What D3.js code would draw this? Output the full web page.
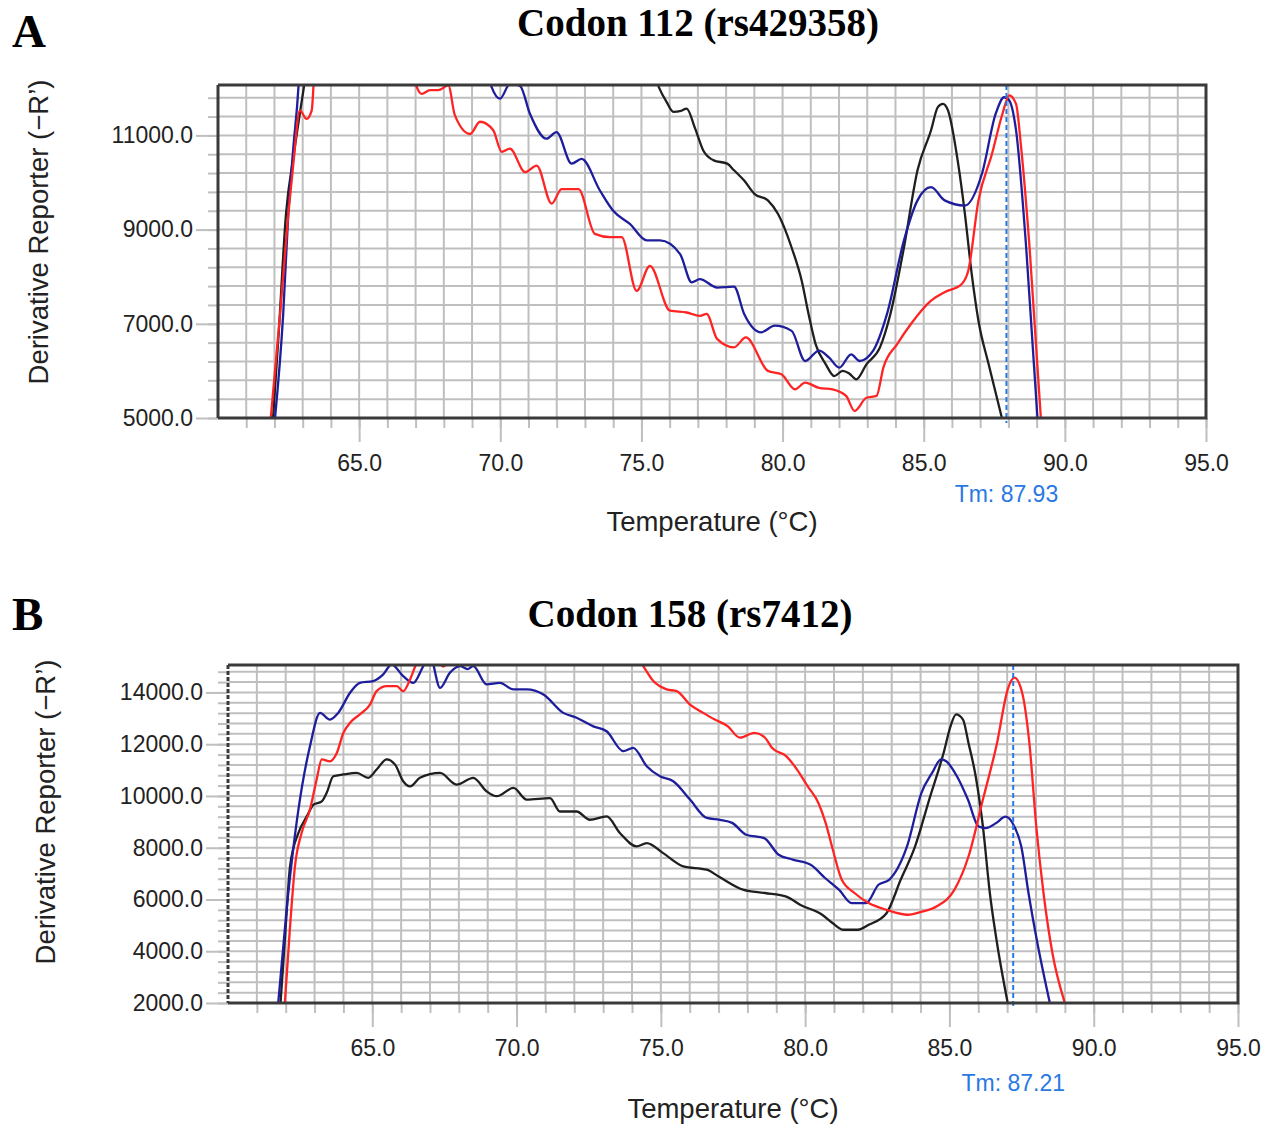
<!DOCTYPE html>
<html>
<head>
<meta charset="utf-8">
<script src="https://cdn.jsdelivr.net/npm/d3@7"></script>
<style>
  body { margin: 0; background: #fff; }
  svg { display: block; }
</style>
</head>
<body>
<script>
// melt curve data: [temperature (°C), derivative reporter (-R')]
var a112Black = [[61.95,5000],[62.15,6800],[62.41,9340],[62.67,10540],[62.9,11470],[63.1,12300],[63.4,14500],[74.9,13600],[75.62,12020],[75.9,11700],[76.13,11500],[76.4,11520],[76.6,11570],[76.9,11150],[77.19,10680],[77.56,10470],[78.04,10400],[78.28,10260],[78.64,10040],[79.0,9760],[79.48,9620],[79.84,9330],[80.32,8620],[80.68,7910],[80.92,7210],[81.17,6570],[81.53,6140],[81.83,5890],[82.13,6000],[82.35,5950],[82.61,5820],[82.97,6140],[83.45,6500],[83.82,7210],[84.3,8620],[84.78,10260],[85.26,11110],[85.5,11600],[85.68,11670],[85.86,11530],[86.22,10400],[86.46,9330],[86.7,8060],[86.94,7060],[87.3,6140],[87.77,5000]];

var a112Blue = [[62.02,5000],[62.31,7210],[62.49,9330],[62.67,10750],[62.85,12030],[63.0,14000],[69.3,13000],[69.69,12030],[69.99,11780],[70.35,12100],[70.7,12050],[71.05,11460],[71.64,10930],[71.99,11070],[72.53,10400],[72.88,10500],[73.53,9830],[74.0,9400],[74.59,9120],[75.19,8770],[75.66,8770],[76.37,8480],[76.78,7880],[77.07,7950],[77.68,7770],[78.28,7790],[78.64,7210],[79.24,6820],[79.72,6960],[80.32,6850],[80.8,6210],[81.29,6430],[81.65,6280],[82.01,6070],[82.43,6350],[82.73,6210],[83.21,6430],[83.7,7210],[84.3,8770],[84.78,9620],[85.26,9900],[85.74,9620],[86.46,9510],[87.06,10180],[87.55,11460],[87.85,11810],[88.03,11740],[88.27,11110],[88.63,8620],[89.03,5000]];

var a112Red = [[61.87,5000],[62.2,7210],[62.49,9330],[62.67,10400],[62.9,11530],[63.14,11350],[63.32,11530],[63.38,12030],[63.5,14000],[66.6,13500],[67.04,12030],[67.22,11880],[67.51,11960],[67.8,11960],[68.16,12060],[68.39,11430],[68.93,11030],[69.28,11290],[69.75,11110],[70.05,10650],[70.34,10720],[70.88,10220],[71.29,10360],[71.82,9550],[72.17,9860],[72.77,9860],[73.35,8910],[73.89,8840],[74.3,8840],[74.83,7700],[75.3,8230],[76.01,7280],[76.6,7240],[77.07,7170],[77.31,7210],[77.68,6680],[78.28,6500],[78.7,6710],[79.48,6000],[79.96,5930],[80.44,5610],[80.8,5750],[81.29,5640],[81.77,5610],[82.25,5470],[82.55,5150],[82.97,5430],[83.33,5470],[83.57,6070],[84.06,6570],[84.54,6990],[85.26,7490],[85.74,7670],[86.34,7840],[86.58,8130],[86.94,9620],[87.42,10610],[87.79,11460],[88.03,11850],[88.27,11670],[88.45,10750],[88.75,8620],[89.15,5000]];

var b158Black = [[61.82,2000],[61.98,4600],[62.15,7280],[62.44,8570],[62.73,9210],[62.96,9660],[63.25,9790],[63.42,10120],[63.65,10760],[64.0,10830],[64.46,10890],[64.86,10700],[65.15,11020],[65.5,11410],[65.79,11210],[66.07,10570],[66.31,10370],[66.65,10700],[67.35,10890],[67.92,10440],[68.5,10700],[68.96,10180],[69.31,9990],[69.89,10310],[70.35,9860],[71.16,9920],[71.5,9400],[72.08,9400],[72.54,9080],[73.12,9210],[73.58,8570],[74.16,8050],[74.51,8180],[75.08,7790],[75.78,7280],[76.59,7150],[77.0,6890],[77.87,6370],[78.61,6250],[79.35,6110],[79.84,5790],[80.59,5410],[80.96,5080],[81.33,4830],[81.83,4830],[82.2,5020],[82.82,5470],[83.31,6760],[83.81,8050],[84.3,9860],[84.8,11670],[85.04,12700],[85.23,13150],[85.47,12950],[85.66,12050],[85.91,10760],[86.16,8820],[86.4,6250],[86.65,4310],[87.02,2000]];

var b158Blue = [[61.74,2000],[62.03,5600],[62.44,9470],[62.84,11920],[63.19,13210],[63.53,12950],[63.82,13210],[64.23,13990],[64.57,14370],[65.03,14440],[65.38,14700],[65.67,15080],[66.07,14630],[66.42,14370],[66.77,15020],[67.0,15400],[67.35,14180],[67.69,14760],[68.04,15020],[68.3,14900],[68.5,15020],[68.96,14310],[69.42,14370],[69.89,14120],[70.35,14120],[70.93,13920],[71.62,13210],[72.08,13020],[72.66,12690],[73.12,12500],[73.7,11730],[74.04,11860],[74.51,11150],[74.97,10760],[75.43,10570],[76.01,9860],[76.59,9150],[77.05,9080],[77.47,8960],[77.96,8500],[78.58,8370],[79.08,7730],[79.57,7540],[80.19,7340],[80.69,6830],[81.18,6370],[81.61,5860],[82.11,5860],[82.54,6570],[82.91,6760],[83.53,8050],[84.03,10120],[84.4,10890],[84.71,11410],[84.89,11340],[85.26,10760],[85.64,9860],[86.01,8820],[86.25,8760],[86.63,8960],[86.94,9200],[87.25,8820],[87.49,8050],[87.74,6250],[88.05,4310],[88.48,2000]];

var b158Red = [[61.97,2000],[62.15,4950],[62.32,7280],[62.55,8570],[62.84,9470],[63.07,10630],[63.25,11410],[63.53,11340],[63.77,11660],[64.0,12440],[64.23,12830],[64.57,13150],[64.92,13530],[65.15,14050],[65.5,14240],[65.85,14240],[66.07,14050],[66.31,14500],[66.54,15150],[66.9,15700],[67.3,15150],[67.46,15000],[67.7,15300],[68.0,16000],[73.8,16000],[74.39,15020],[74.74,14440],[75.2,14120],[75.55,14050],[76.01,13530],[76.47,13210],[76.87,12950],[77.31,12700],[77.74,12250],[78.24,12440],[78.61,12250],[78.85,11860],[79.35,11530],[79.72,11020],[80.09,10370],[80.46,9730],[80.71,8960],[80.96,7920],[81.27,6760],[81.71,6250],[82.2,5860],[82.82,5600],[83.56,5410],[84.05,5530],[84.55,5730],[85.17,6370],[85.66,7660],[86.16,9860],[86.65,12050],[87.02,14120],[87.25,14570],[87.52,13990],[87.77,12050],[88.01,8820],[88.26,6250],[88.57,3920],[89.0,2000]];

// axis ticks
var xTicks = [65, 70, 75, 80, 85, 90, 95];
var xMinorTicks = d3.range(61, 96, 1);
var yTicksA = [5000, 7000, 9000, 11000];
var yMinorA = d3.range(5000, 12070, 400);
var yTicksB = [2000, 4000, 6000, 8000, 10000, 12000, 14000];
var yMinorB = d3.range(2000, 15060, 400);

var svg_width = 1262;
var svg_height = 1126;

var svg = d3.select('body').append('svg')
  .attr('width', svg_width)
  .attr('height', svg_height);

var sans = '"Liberation Sans", Arial, sans-serif';
var serif = '"Liberation Serif", "Times New Roman", serif';
var gridColor = '#bfbfbf';
var textColor = '#222';

function drawPanel(cfg) {
  var x = d3.scaleLinear().domain([60, 95]).range([cfg.left, cfg.right]);
  var y = d3.scaleLinear().domain(cfg.yDomain).range([cfg.bottom, cfg.top]);
  var g = svg.append('g');

  // grid
  g.selectAll('line.vgrid')
    .data(xMinorTicks.filter(d => d < 95))
    .enter().append('line')
    .attr('x1', d => x(d)).attr('x2', d => x(d))
    .attr('y1', cfg.top).attr('y2', cfg.bottom)
    .attr('stroke', gridColor).attr('stroke-width', 2);

  g.selectAll('line.hgrid')
    .data(cfg.yMinor.filter(d => d > cfg.yDomain[0]))
    .enter().append('line')
    .attr('x1', cfg.left).attr('x2', cfg.right)
    .attr('y1', d => y(d)).attr('y2', d => y(d))
    .attr('stroke', gridColor).attr('stroke-width', 2);

  // minor ticks
  g.append('g')
    .attr('transform', 'translate(' + cfg.left + ',0)')
    .call(d3.axisLeft(y).tickValues(cfg.yMinor).tickSize(10).tickFormat(''))
    .call(a => a.select('.domain').remove())
    .call(a => a.selectAll('line').attr('stroke', gridColor).attr('stroke-width', 2));

  g.append('g')
    .attr('transform', 'translate(0,' + cfg.bottom + ')')
    .call(d3.axisBottom(x).tickValues(xMinorTicks).tickSize(10).tickFormat(''))
    .call(a => a.select('.domain').remove())
    .call(a => a.selectAll('line').attr('stroke', gridColor).attr('stroke-width', 2));

  // major ticks with labels
  g.append('g')
    .attr('transform', 'translate(' + cfg.left + ',0)')
    .call(d3.axisLeft(y).tickValues(cfg.yTicks).tickSize(22).tickPadding(3).tickFormat(d3.format('.1f')))
    .call(a => a.select('.domain').remove())
    .call(a => a.selectAll('line').attr('stroke', gridColor).attr('stroke-width', 2))
    .call(a => a.selectAll('text').attr('font-family', sans).attr('font-size', 23).attr('fill', textColor));

  g.append('g')
    .attr('transform', 'translate(0,' + cfg.bottom + ')')
    .call(d3.axisBottom(x).tickValues(xTicks).tickSize(24).tickPadding(13).tickFormat(d3.format('.1f')))
    .call(a => a.select('.domain').remove())
    .call(a => a.selectAll('line').attr('stroke', gridColor).attr('stroke-width', 2))
    .call(a => a.selectAll('text').attr('font-family', sans).attr('font-size', 23).attr('fill', textColor));

  // curves, clipped to the plot area
  svg.append('clipPath').attr('id', cfg.id + '-clip')
    .append('rect')
    .attr('x', cfg.left).attr('y', cfg.top)
    .attr('width', cfg.right - cfg.left).attr('height', cfg.bottom - cfg.top);

  var line = d3.line()
    .x(d => x(d[0]))
    .y(d => y(d[1]))
    .curve(d3.curveMonotoneX);
  var curves = g.append('g').attr('clip-path', 'url(#' + cfg.id + '-clip)');
  cfg.series.forEach(function(s) {
    curves.append('path')
      .datum(s.data)
      .attr('d', line)
      .attr('fill', 'none')
      .attr('stroke', s.color)
      .attr('stroke-width', 2.3)
      .attr('stroke-linejoin', 'round');
  });

  // Tm marker
  g.append('line')
    .attr('x1', x(cfg.tm)).attr('x2', x(cfg.tm))
    .attr('y1', cfg.top).attr('y2', cfg.bottom + 5)
    .attr('stroke', '#2a78e4').attr('stroke-width', 2)
    .attr('stroke-dasharray', '5,3');

  g.append('text')
    .attr('x', x(cfg.tm))
    .attr('y', cfg.bottom + cfg.tmLabelDy)
    .attr('text-anchor', 'middle')
    .attr('font-family', sans).attr('font-size', 23)
    .attr('fill', '#2a78e4')
    .text('Tm: ' + cfg.tm.toFixed(2));

  // frame
  g.append('path')
    .attr('d', 'M' + cfg.left + ',' + cfg.top + 'H' + cfg.right + 'V' + cfg.bottom + 'H' + cfg.left)
    .attr('fill', 'none').attr('stroke', '#3a3a3a').attr('stroke-width', 3);
  g.append('line')
    .attr('x1', cfg.left).attr('x2', cfg.left)
    .attr('y1', cfg.top).attr('y2', cfg.bottom)
    .attr('stroke', '#3a3a3a').attr('stroke-width', 3)
    .attr('stroke-dasharray', cfg.leftDash);

  // axis titles
  g.append('text')
    .attr('x', (cfg.left + cfg.right) / 2)
    .attr('y', cfg.bottom + cfg.xTitleDy)
    .attr('text-anchor', 'middle')
    .attr('font-family', sans).attr('font-size', 27.5)
    .attr('fill', textColor)
    .text('Temperature (°C)');

  g.append('text')
    .attr('text-anchor', 'middle')
    .attr('transform', 'translate(' + cfg.yTitleX + ',' + cfg.yTitleY + ') rotate(-90)')
    .attr('font-family', sans).attr('font-size', 27.5)
    .attr('fill', textColor)
    .text('Derivative Reporter (\u2212R\u2019)');

  // panel title and letter
  g.append('text')
    .attr('x', cfg.titleX).attr('y', cfg.titleY)
    .attr('text-anchor', 'middle')
    .attr('font-family', serif).attr('font-size', 39).attr('font-weight', 'bold')
    .attr('fill', '#000')
    .text(cfg.title);

  g.append('text')
    .attr('x', 12).attr('y', cfg.letterY)
    .attr('font-family', serif).attr('font-size', 47).attr('font-weight', 'bold')
    .attr('fill', '#000')
    .text(cfg.letter);
}

drawPanel({
  id: 'a', letter: 'A', letterY: 47,
  title: 'Codon 112 (rs429358)', titleX: 698, titleY: 36,
  left: 218, right: 1206, top: 85, bottom: 418,
  yDomain: [5000, 12070], yTicks: yTicksA, yMinor: yMinorA,
  tm: 87.93, tmLabelDy: 84, xTitleDy: 113,
  yTitleX: 48, yTitleY: 232, leftDash: null,
  series: [
    { data: a112Black, color: '#1f1f1f' },
    { data: a112Blue, color: '#1e1e9c' },
    { data: a112Red, color: '#ff2424' }
  ]
});

drawPanel({
  id: 'b', letter: 'B', letterY: 630,
  title: 'Codon 158 (rs7412)', titleX: 690, titleY: 627,
  left: 228, right: 1238, top: 665, bottom: 1003,
  yDomain: [2000, 15060], yTicks: yTicksB, yMinor: yMinorB,
  tm: 87.21, tmLabelDy: 88, xTitleDy: 115,
  yTitleX: 55, yTitleY: 812, leftDash: '4,2',
  series: [
    { data: b158Black, color: '#1f1f1f' },
    { data: b158Blue, color: '#1e1e9c' },
    { data: b158Red, color: '#ff2424' }
  ]
});
</script>
</body>
</html>
